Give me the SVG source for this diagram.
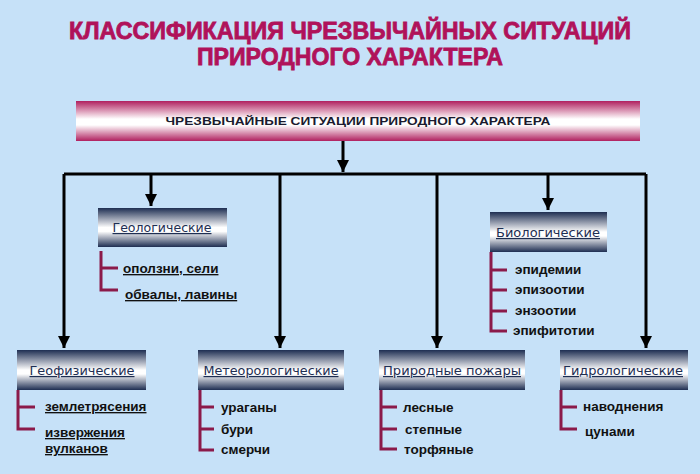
<svg xmlns="http://www.w3.org/2000/svg" width="700" height="474" viewBox="0 0 700 474">
<defs>
<linearGradient id="pk" x1="0" y1="0" x2="0" y2="1">
<stop offset="0" stop-color="#b0205f"/><stop offset="0.45" stop-color="#ffffff"/><stop offset="0.6" stop-color="#ffffff"/><stop offset="1" stop-color="#b0205f"/>
</linearGradient>
<linearGradient id="nv" x1="0" y1="0" x2="0" y2="1">
<stop offset="0" stop-color="#1e2e52"/><stop offset="0.5" stop-color="#ffffff"/><stop offset="0.6" stop-color="#ffffff"/><stop offset="1" stop-color="#1e2e52"/>
</linearGradient>
<marker id="ar" viewBox="0 0 10 10" refX="10" refY="5" markerWidth="4" markerHeight="4" orient="auto"><path d="M0,0L10,5L0,10z" fill="#000"/></marker>
<style>
.t{font-family:"Liberation Sans",Arial,sans-serif;font-weight:bold;fill:#b0125a;stroke:#b0125a;stroke-width:0.8;font-size:23px;text-anchor:middle}
.h{font-family:"Liberation Sans",Arial,sans-serif;font-weight:bold;fill:#1a1a2e;font-size:11px;text-anchor:middle}
.n{font-family:"DejaVu Sans",sans-serif;fill:#1e2e52;font-size:12px;text-anchor:middle;text-decoration:underline}
.i{font-family:"Liberation Sans",Arial,sans-serif;font-weight:bold;fill:#111;font-size:13.5px}
.u{text-decoration:underline}
.c{stroke:#000;stroke-width:3;fill:none}
.b{stroke:#8b1a4a;stroke-width:3;fill:none}
</style>
</defs>
<rect width="700" height="474" fill="#c6e1f8"/>
<text class="t" x="350" y="39" textLength="562" lengthAdjust="spacingAndGlyphs">КЛАССИФИКАЦИЯ ЧРЕЗВЫЧАЙНЫХ СИТУАЦИЙ</text>
<text class="t" x="350" y="65" textLength="306" lengthAdjust="spacingAndGlyphs">ПРИРОДНОГО ХАРАКТЕРА</text>
<g id="connectors">
<path class="c" d="M343,141V172" marker-end="url(#ar)"/>
<path class="c" d="M64,174H646"/>
<path class="c" d="M64,174V348" marker-end="url(#ar)"/>
<path class="c" d="M151,174V206" marker-end="url(#ar)"/>
<path class="c" d="M280,174V348" marker-end="url(#ar)"/>
<path class="c" d="M437,174V348" marker-end="url(#ar)"/>
<path class="c" d="M548,174V210" marker-end="url(#ar)"/>
<path class="c" d="M646,174V348" marker-end="url(#ar)"/>
</g>
<g id="root"><rect x="76" y="101" width="564" height="40" fill="url(#pk)"/><text class="h" x="358" y="125" textLength="385" lengthAdjust="spacingAndGlyphs">ЧРЕЗВЫЧАЙНЫЕ СИТУАЦИИ ПРИРОДНОГО ХАРАКТЕРА</text></g>
<g id="geol"><rect x="98" y="208" width="129" height="39" fill="url(#nv)"/><text class="n" x="162" y="232" textLength="99" lengthAdjust="spacingAndGlyphs">Геологические</text>
<path class="b" d="M101,251V290H118M101,268H118"/>
<text class="i u" x="123" y="273">оползни, сели</text><text class="i u" x="125" y="299">обвалы, лавины</text></g>
<g id="geof"><rect x="17" y="350" width="129" height="40" fill="url(#nv)"/><text class="n" x="82" y="375" textLength="105" lengthAdjust="spacingAndGlyphs">Геофизические</text>
<path class="b" d="M18,390V429H35M18,407H35"/>
<text class="i u" x="45" y="411">землетрясения</text><text class="i u" x="45" y="437">извержения</text><text class="i u" x="45" y="453">вулканов</text></g>
<g id="meteo"><rect x="198" y="350" width="146" height="40" fill="url(#nv)"/><text class="n" x="271" y="375" textLength="135" lengthAdjust="spacingAndGlyphs">Метеорологические</text>
<path class="b" d="M200,390V450H214M200,407H214M200,429H214"/>
<text class="i" x="221" y="412">ураганы</text><text class="i" x="221" y="434">бури</text><text class="i" x="221" y="454">смерчи</text></g>
<g id="bio"><rect x="490" y="212" width="117" height="40" fill="url(#nv)"/><text class="n" x="548" y="237" textLength="104" lengthAdjust="spacingAndGlyphs">Биологические</text>
<path class="b" d="M491,252V331H507M491,270H507M491,290H507M491,311H507"/>
<text class="i" x="515" y="274">эпидемии</text><text class="i" x="515" y="294">эпизоотии</text><text class="i" x="515" y="315">энзоотии</text><text class="i" x="513" y="335">эпифитотии</text></g>
<g id="fire"><rect x="379" y="350" width="146" height="40" fill="url(#nv)"/><text class="n" x="452" y="375" textLength="138" lengthAdjust="spacingAndGlyphs">Природные пожары</text>
<path class="b" d="M381,390V449H397M381,407H397M381,429H397"/>
<text class="i" x="403" y="412">лесные</text><text class="i" x="405" y="434">степные</text><text class="i" x="404" y="454">торфяные</text></g>
<g id="hydro"><rect x="560" y="350" width="128" height="40" fill="url(#nv)"/><text class="n" x="623" y="375" textLength="120" lengthAdjust="spacingAndGlyphs">Гидрологические</text>
<path class="b" d="M561,390V429H577M561,407H577"/>
<text class="i" x="583" y="411">наводнения</text><text class="i" x="585" y="436">цунами</text></g>
</svg>
